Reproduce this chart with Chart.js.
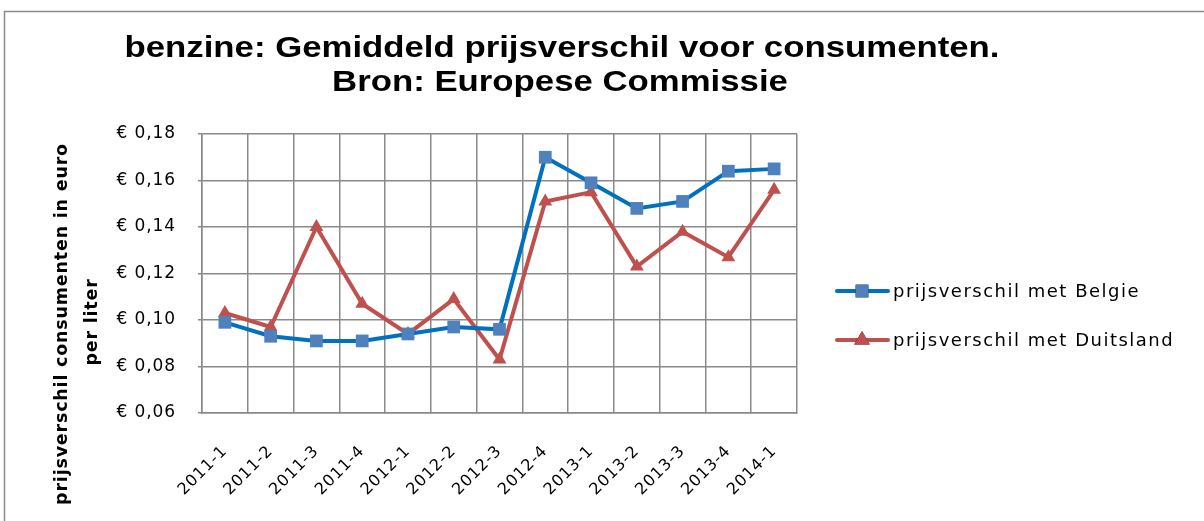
<!DOCTYPE html>
<html>
<head>
<meta charset="utf-8">
<script src="https://cdn.jsdelivr.net/npm/chart.js@4/dist/chart.umd.min.js"></script>
<style>
  html, body { margin: 0; padding: 0; background: #fff; }
  #wrap { width: 1204px; height: 521px; }
</style>
</head>
<body>
<div id="wrap"><canvas id="chart" width="1204" height="521"></canvas></div>
<script>
// data
const quarters = ["2011-1", "2011-2", "2011-3", "2011-4", "2012-1", "2012-2", "2012-3",
                  "2012-4", "2013-1", "2013-2", "2013-3", "2013-4", "2014-1"];
const belgie    = [0.099, 0.093, 0.091, 0.091, 0.094, 0.097, 0.096, 0.170, 0.159, 0.148, 0.151, 0.164, 0.165];
const duitsland = [0.103, 0.097, 0.140, 0.107, 0.094, 0.109, 0.083, 0.151, 0.155, 0.123, 0.138, 0.127, 0.156];
const titleLines = ["benzine: Gemiddeld prijsverschil voor consumenten.", "Bron: Europese Commissie"];
const yTitle = ["prijsverschil consumenten in euro", "per liter"];

const BLUE_LINE = "#0070c0", BLUE_PT = "#4f81bd", RED = "#c0504d";
const GRID = "#8a8a8a";

// shrink/grow a font so a line of text gets a given width
function fitFont(ctx, text, width, weight, family) {
  ctx.font = weight + " 20px " + family;
  const size = 20 * width / ctx.measureText(text).width;
  return weight + " " + size.toFixed(1) + "px " + family;
}

// frame, title, axis title and legend drawn at fixed places
const decor = {
  id: "decor",
  beforeDraw(chart) {
    chart.ctx.letterSpacing = "0.9px";
  },
  afterDraw(chart) {
    const ctx = chart.ctx;
    ctx.save();
    ctx.letterSpacing = "0px";
    ctx.strokeStyle = "#8c8c8c";
    ctx.lineWidth = 1.5;
    ctx.strokeRect(4.5, 11.5, 1400, 700);

    // title: narrow the glyphs sideways to the width of the original
    ctx.fillStyle = "#000";
    ctx.textAlign = "center";
    ctx.textBaseline = "middle";
    ctx.font = "bold 29px 'Liberation Sans'";
    const sx = 875 / ctx.measureText(titleLines[0]).width;
    ctx.save();
    ctx.scale(sx, 1);
    ctx.fillText(titleLines[0], 562 / sx, 49);
    ctx.fillText(titleLines[1], 560 / sx, 83);
    ctx.restore();

    // y axis title, two rotated lines
    ctx.save();
    ctx.translate(62, 324);
    ctx.rotate(-Math.PI / 2);
    ctx.letterSpacing = "0.8px";
    ctx.font = fitFont(ctx, yTitle[0], 358, "bold", "'DejaVu Sans'");
    ctx.fillText(yTitle[0], 0, 0);
    ctx.fillText(yTitle[1], 2, 30);
    ctx.restore();

    // legend
    const items = [
      { label: chart.data.datasets[0].label, line: BLUE_LINE, pt: BLUE_PT, style: "rect", y: 291 },
      { label: chart.data.datasets[1].label, line: RED, pt: RED, style: "triangle", y: 340 }
    ];
    ctx.textAlign = "left";
    ctx.letterSpacing = "1.5px";
    ctx.font = "18px 'DejaVu Sans'";
    items.forEach(it => {
      ctx.strokeStyle = it.line;
      ctx.lineWidth = 4;
      ctx.lineCap = "round";
      ctx.beginPath();
      ctx.moveTo(837, it.y);
      ctx.lineTo(888, it.y);
      ctx.stroke();
      Chart.helpers.drawPoint(ctx, { pointStyle: it.style, radius: 9, borderWidth: 0 }, 862, it.y);
      ctx.fillStyle = it.pt;
      ctx.fill();
      ctx.fillStyle = "#000";
      ctx.fillText(it.label, 893, it.y + 1);
    });
    ctx.restore();
  }
};

new Chart(document.getElementById("chart"), {
  type: "line",
  data: {
    labels: quarters,
    datasets: [
      {
        label: "prijsverschil met Belgie",
        data: belgie,
        borderColor: BLUE_LINE,
        borderWidth: 4,
        pointStyle: "rect",
        pointRadius: 9,
        pointBackgroundColor: BLUE_PT,
        pointBorderWidth: 0,
        tension: 0
      },
      {
        label: "prijsverschil met Duitsland",
        data: duitsland,
        borderColor: RED,
        borderWidth: 4,
        pointStyle: "triangle",
        pointRadius: 8,
        pointBackgroundColor: RED,
        pointBorderWidth: 0,
        tension: 0
      }
    ]
  },
  options: {
    responsive: false,
    animation: false,
    devicePixelRatio: 1,
    layout: { padding: { left: 0, right: 407, top: 134, bottom: 0 } },
    plugins: { legend: { display: false }, title: { display: false }, tooltip: { enabled: false } },
    scales: {
      x: {
        offset: true,
        grid: { offset: true, color: GRID, lineWidth: 1.5, tickLength: 0 },
        border: { color: GRID, width: 1.5 },
        ticks: {
          color: "#000",
          font: { family: "'DejaVu Sans'", size: 16 },
          minRotation: 45,
          maxRotation: 45,
          padding: 29
        },
        afterFit(scale) { scale.height = 108; }
      },
      y: {
        min: 0.06,
        max: 0.18,
        grid: { color: GRID, lineWidth: 1.5, tickLength: 4 },
        border: { color: GRID, width: 1.5 },
        ticks: {
          stepSize: 0.02,
          color: "#000",
          font: { family: "'DejaVu Sans'", size: 17 },
          padding: 22,
          callback: v => "€ " + v.toFixed(2).replace(".", ",")
        },
        afterFit(scale) { scale.width = 202; }
      }
    }
  },
  plugins: [decor]
});
</script>
</body>
</html>
